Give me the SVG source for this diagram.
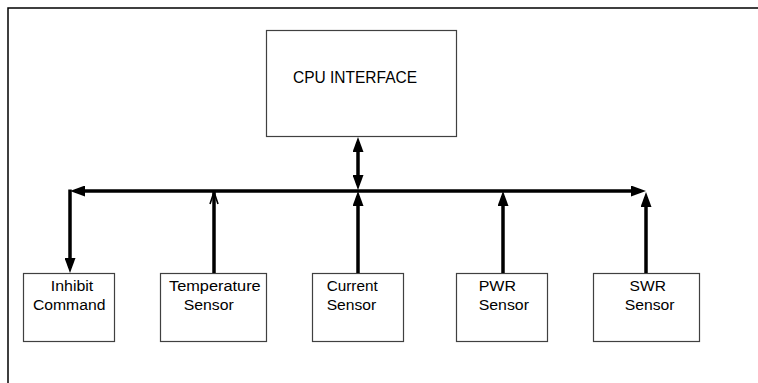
<svg xmlns="http://www.w3.org/2000/svg" width="758" height="383" viewBox="0 0 758 383">
  <style>
    .box { fill: #ffffff; stroke: #404040; stroke-width: 1.2; }
    .lbl { font-family: "Liberation Sans", Arial, sans-serif; font-size: 14px; fill: #000000; }
    .cpu { font-family: "Liberation Sans", Arial, sans-serif; font-size: 16px; fill: #000000; }
    .wire { stroke: #000000; stroke-width: 3.5; fill: none; }
    .frame { stroke: #000000; stroke-width: 1.5; fill: none; }
  </style>
  <defs>
    <marker id="arrow" markerUnits="userSpaceOnUse" markerWidth="15" markerHeight="11" refX="10" refY="5.5" orient="auto-start-reverse" viewBox="0 0 15 11">
      <path d="M0,0 L15,5.5 L0,11 z" fill="#000000"/>
    </marker>
    <marker id="open" markerUnits="userSpaceOnUse" markerWidth="14" markerHeight="10" refX="12" refY="5" orient="auto" viewBox="0 0 13 10">
      <path d="M0,1 L12,5 L0,9" fill="none" stroke="#000000" stroke-width="1.6"/>
    </marker>
  </defs>

  <path class="frame" d="M8,383 L8,8 L758,8"/>

  <g id="cpu">
    <rect class="box" x="266.5" y="30.5" width="190" height="106"/>
    <text class="cpu" x="293" y="82.5" textLength="124" lengthAdjust="spacingAndGlyphs">CPU INTERFACE</text>
  </g>

  <g id="inhibit">
    <rect class="box" x="23.5" y="273.5" width="91" height="68"/>
    <text class="lbl" x="50.8" y="291" textLength="42.5" lengthAdjust="spacingAndGlyphs">Inhibit</text>
    <text class="lbl" x="32.9" y="309.5" textLength="72.5" lengthAdjust="spacingAndGlyphs">Command</text>
  </g>

  <g id="temperature">
    <rect class="box" x="160.5" y="273.5" width="106" height="68"/>
    <text class="lbl" x="169" y="291" textLength="91.7" lengthAdjust="spacingAndGlyphs">Temperature</text>
    <text class="lbl" x="183.7" y="309.5" textLength="50" lengthAdjust="spacingAndGlyphs">Sensor</text>
  </g>

  <g id="current">
    <rect class="box" x="312.5" y="273.5" width="91" height="68"/>
    <text class="lbl" x="326.7" y="291" textLength="51" lengthAdjust="spacingAndGlyphs">Current</text>
    <text class="lbl" x="326.7" y="309.5" textLength="49.5" lengthAdjust="spacingAndGlyphs">Sensor</text>
  </g>

  <g id="pwr">
    <rect class="box" x="456.5" y="273.5" width="91" height="68"/>
    <text class="lbl" x="478.7" y="291" textLength="37.3" lengthAdjust="spacingAndGlyphs">PWR</text>
    <text class="lbl" x="478.7" y="309.5" textLength="50.3" lengthAdjust="spacingAndGlyphs">Sensor</text>
  </g>

  <g id="swr">
    <rect class="box" x="593.5" y="273.5" width="106" height="68"/>
    <text class="lbl" x="629.6" y="291" textLength="36.3" lengthAdjust="spacingAndGlyphs">SWR</text>
    <text class="lbl" x="624.8" y="309.5" textLength="49.8" lengthAdjust="spacingAndGlyphs">Sensor</text>
  </g>

  <g id="connectors">
    <line class="wire" x1="358" y1="142" x2="358" y2="185" marker-start="url(#arrow)" marker-end="url(#arrow)"/>
    <line class="wire" x1="75" y1="191" x2="641" y2="191" marker-start="url(#arrow)" marker-end="url(#arrow)"/>
    <line class="wire" x1="70" y1="189.5" x2="70" y2="268" marker-end="url(#arrow)"/>
    <line class="wire" x1="214" y1="273" x2="214" y2="192" marker-end="url(#open)"/>
    <line class="wire" x1="358" y1="273" x2="358" y2="196" marker-end="url(#arrow)"/>
    <line class="wire" x1="503" y1="273" x2="503" y2="196" marker-end="url(#arrow)"/>
    <line class="wire" x1="646" y1="273" x2="646" y2="197" marker-end="url(#arrow)"/>
  </g>
</svg>
